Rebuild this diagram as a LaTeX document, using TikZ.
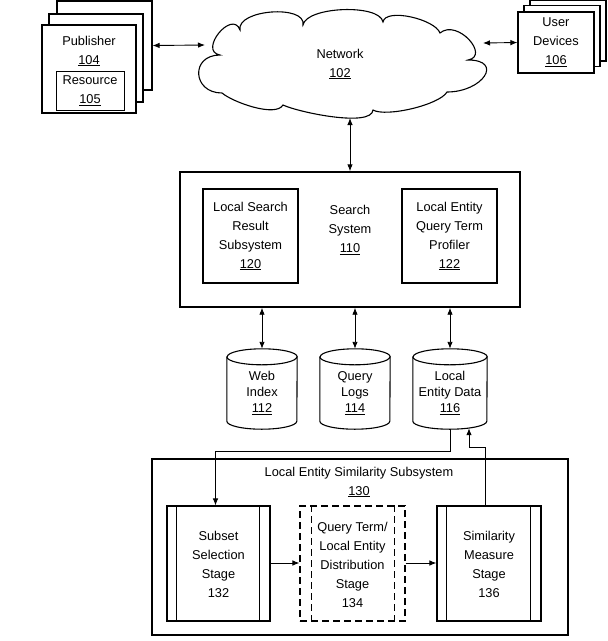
\documentclass[tikz,border=0pt]{standalone}
\usepackage{fontspec}
\setmainfont{Liberation Sans}
\usetikzlibrary{arrows.meta,calc}
\newcommand\drawcyl[2]{% node name, x radius
  \draw[line width=1.1pt, fill=white]
    ($(#1.north west)+(0,-8)$) -- ($(#1.south west)+(0,8)$)
    arc[start angle=180,end angle=360,x radius=#2,y radius=8]
    -- ($(#1.north east)+(0,-8)$)
    arc[start angle=0,end angle=180,x radius=#2,y radius=8] -- cycle;
  \draw[line width=1.1pt] ($(#1.north west)+(0,-8)$)
    arc[start angle=180,end angle=360,x radius=#2,y radius=8];}
\begin{document}
\begin{tikzpicture}[x=1pt,y=1pt,
  >={Latex[length=7pt,width=5.5pt]},
  txt/.style={font=\fontsize{12.8}{19}\selectfont, align=center, inner sep=0pt},
  ctxt/.style={font=\fontsize{12.8}{16}\selectfont, align=center, inner sep=0pt},
  bx/.style={draw, line width=1.1pt, fill=white, inner sep=0pt},
  obx/.style={draw, line width=1.4pt, inner sep=0pt},
  cylbox/.style={inner sep=0pt},
  conn/.style={line width=0.9pt},
  dsh/.style={dash pattern=on 7pt off 4pt}]
\useasboundingbox (0,0) rectangle (608,-641);

% Publisher stack
\node[bx, minimum width=95pt, minimum height=89pt] (pub3) at (104.5,-45.5) {};
\node[bx, minimum width=94pt, minimum height=88pt] (pub2) at (96,-58) {};
\node[bx, minimum width=94pt, minimum height=88pt] (pub1) at (89,-69) {};
\node[txt] (pubt) at (89,-51) {Publisher\\\underline{104}};
\node[bx, txt, line width=1pt, minimum width=68pt, minimum height=39pt] (res) at (90,-90.5) {Resource\\\underline{105}};

% User devices stack
\node[bx, minimum width=76pt, minimum height=61pt] (ud3) at (568,-30.5) {};
\node[bx, minimum width=76pt, minimum height=61pt] (ud2) at (562,-36) {};
\node[bx, txt, minimum width=76pt, minimum height=61pt] (ud1) at (556,-42.5) {User\\Devices\\\underline{106}};

% Network cloud
\draw[line width=1.1pt, fill=white] (220,-55)
  to[out=170,in=110,looseness=1.8] (240,-30)
  to[out=100,in=80,looseness=0.85] (303,-25)
  to[out=80,in=100,looseness=0.6] (383,-22)
  to[out=80,in=110,looseness=0.65] (440,-33)
  to[out=40,in=10,looseness=1.5] (468,-60)
  to[out=0,in=0,looseness=2.4] (447,-92)
  to[out=-120,in=-30,looseness=0.5] (373,-110)
  to[out=-95,in=-25,looseness=0.5] (283,-105)
  to[out=-120,in=-40,looseness=0.6] (222,-93)
  to[out=180,in=180,looseness=2] cycle;
\node[txt] (net) at (340,-64) {Network\\\underline{102}};
\coordinate (netL) at (205,-45);
\coordinate (netR) at (483,-43);
\coordinate (netB) at (350,-118);

% Search system
\node[obx, minimum width=340pt, minimum height=135pt] (ss) at (350,-239.5) {};
\node[bx, txt, minimum width=95pt, minimum height=94pt] (lsr) at (250.5,-236) {Local Search\\Result\\Subsystem\\\underline{120}};
\node[txt] (sst) at (350,-230) {Search\\System\\\underline{110}};
\node[bx, txt, minimum width=95pt, minimum height=94pt] (leq) at (449.5,-236) {Local Entity\\Query Term\\Profiler\\\underline{122}};

% Data stores
\node[cylbox, minimum width=70pt, minimum height=80pt] (wi) at (262,-389) {};
\drawcyl{wi}{35}
\node[ctxt] (wit) at (262,-393) {Web\\Index\\\underline{112}};
\node[cylbox, minimum width=70pt, minimum height=80pt] (ql) at (355,-389) {};
\drawcyl{ql}{35}
\node[ctxt] (qlt) at (355,-393) {Query\\Logs\\\underline{114}};
\node[cylbox, minimum width=74pt, minimum height=80pt] (ld) at (450,-389) {};
\drawcyl{ld}{37}
\node[ctxt] (ldt) at (450,-393) {Local\\Entity Data\\\underline{116}};

% Local entity similarity subsystem
\node[obx, minimum width=416pt, minimum height=176pt] (less) at (360,-547) {};
\node[txt] (lesst) at (359,-482) {Local Entity Similarity Subsystem\\\underline{130}};

\node[bx, minimum width=103pt, minimum height=115pt] (sub) at (218.5,-563.5) {};
\node[txt] (subt) at (218.5,-564) {Subset\\Selection\\Stage\\132};
\draw[line width=1.1pt] ($(sub.north west)+(10,0)$) -- ($(sub.south west)+(10,0)$);
\draw[line width=1.1pt] ($(sub.north east)+(-11,0)$) -- ($(sub.south east)+(-11,0)$);

\node[bx, dsh, minimum width=105pt, minimum height=115pt] (qtd) at (352.5,-563.5) {};
\node[txt] (qtdt) at (352.5,-565) {Query Term/\\Local Entity\\Distribution\\Stage\\134};
\draw[line width=1.1pt, dsh] ($(qtd.north west)+(12,0)$) -- ($(qtd.south west)+(12,0)$);
\draw[line width=1.1pt, dsh] ($(qtd.north east)+(-11,0)$) -- ($(qtd.south east)+(-11,0)$);

\node[bx, minimum width=104pt, minimum height=115pt] (sim) at (489,-563.5) {};
\node[txt] (simt) at (489,-564) {Similarity\\Measure\\Stage\\136};
\draw[line width=1.1pt] ($(sim.north west)+(10,0)$) -- ($(sim.south west)+(10,0)$);
\draw[line width=1.1pt] ($(sim.north east)+(-11,0)$) -- ($(sim.south east)+(-11,0)$);

% Connectors
\draw[conn,<->] (pub3.east) -- (netL);
\draw[conn,<->] (netR) -- (ud1.west);
\draw[conn,<->] (netB) -- (netB |- ss.north);
\draw[conn,<->] (wi.north |- ss.south) -- (wi.north);
\draw[conn,<->] (ql.north |- ss.south) -- (ql.north);
\draw[conn,<->] (ld.north |- ss.south) -- (ld.north);

\coordinate (h1) at (0,-451);
\coordinate (h2) at (0,-447);
\coordinate (hm) at (0,-563);
\coordinate (subin) at ($(sub.north)+(-3,0)$);
\coordinate (simup) at ($(sim.north)+(-4,0)$);
\coordinate (ldin) at ($(ld.south)+(19,1)$);
\draw[conn,->] (ld.south) -- (ld.south |- h1) -| (subin);
\draw[conn,->] (simup) |- (ldin |- h2) -- (ldin);
\draw[conn,->] (sub.east |- hm) -- (qtd.west |- hm);
\draw[conn,->] (qtd.east |- hm) -- (sim.west |- hm);
\end{tikzpicture}
\end{document}
